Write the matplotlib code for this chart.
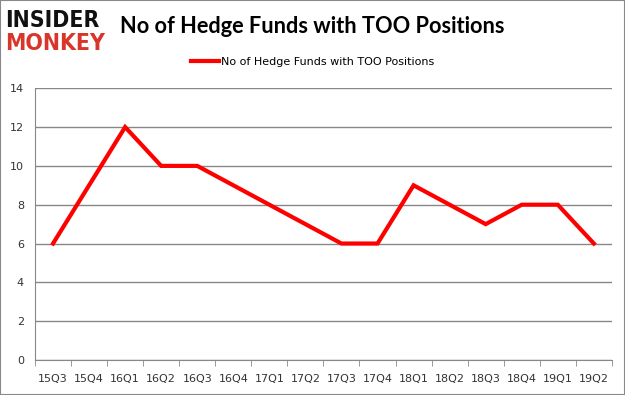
import numpy as np
import matplotlib
matplotlib.use("Agg")
import matplotlib.pyplot as plt
from matplotlib.patches import Rectangle

quarters = ["15Q3", "15Q4", "16Q1", "16Q2", "16Q3", "16Q4", "17Q1", "17Q2",
            "17Q3", "17Q4", "18Q1", "18Q2", "18Q3", "18Q4", "19Q1", "19Q2"]
funds = [6, 9, 12, 10, 10, 9, 8, 7, 6, 6, 9, 8, 7, 8, 8, 6]
y_ticks = [0, 2, 4, 6, 8, 10, 12, 14]

title = "No of Hedge Funds with TOO Positions"

fig = plt.figure(figsize=(6.25, 3.95), dpi=100)
ax = fig.add_axes([0.056, 0.0886, 0.923, 0.688])

x = np.arange(len(quarters))
line, = ax.plot(x, funds, color="#ff0000", linewidth=3, solid_joinstyle="miter")

ax.set_xlim(-0.5, len(quarters) - 0.5)
ax.set_ylim(0, 14)
ax.set_yticks(y_ticks)
ax.set_yticklabels([str(v) for v in y_ticks], fontsize=8, color="#333333")
ax.set_xticks(x)
ax.set_xticklabels(quarters, fontsize=8, color="#333333")
ax.set_xticks(np.arange(-0.5, len(quarters)), minor=True)
ax.tick_params(axis="x", which="major", length=0, pad=10)
ax.tick_params(axis="x", which="minor", length=4, color="#888888")
ax.tick_params(axis="y", length=0, pad=8)

ax.grid(axis="y", color="#888888", linewidth=1)
ax.set_axisbelow(True)
for side in ["top", "right"]:
    ax.spines[side].set_visible(False)
ax.spines["left"].set_color("#888888")
ax.spines["bottom"].set_color("#888888")

# logo and title
fig.text(0.008, 1 - 27 / 395, "INSIDER", fontsize=16.5, fontweight="bold", color="#111111",
         va="baseline", ha="left", family="DejaVu Sans", fontstretch="condensed")
fig.text(0.008, 1 - 50 / 395, "MONKEY", fontsize=16.5, fontweight="bold", color="#d9362b",
         va="baseline", ha="left", family="DejaVu Sans", fontstretch="condensed")
fig.text(120 / 625, 1 - 33 / 395, title, fontsize=15.7, fontweight="bold", color="#000000",
         va="baseline", ha="left", family="Lato")

# legend
fig.legend([line], [title], loc="center", bbox_to_anchor=(0.5, 1 - 62 / 395),
           frameon=False, fontsize=8, handlelength=2.5, handletextpad=0.2)

fig.patches.append(Rectangle((0, 0), 1, 1, transform=fig.transFigure, fill=False,
                             edgecolor="#888888", linewidth=1.5))

fig.savefig("out.png", dpi=100)
